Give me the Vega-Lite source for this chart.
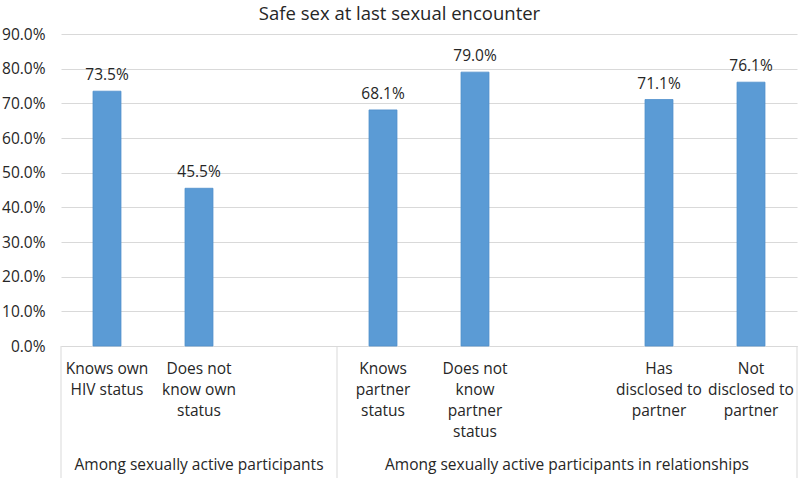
{
  "$schema": "https://vega.github.io/schema/vega-lite/v6.json",
  "width": 736,
  "height": 312,
  "autosize": {"type": "none"},
  "padding": {"left": 61, "top": 34, "right": 3, "bottom": 132},
  "background": "white",
  "title": {
    "text": "Safe sex at last sexual encounter",
    "anchor": "middle",
    "frame": "bounds",
    "font": "Open Sans",
    "fontSize": 18.5,
    "fontWeight": "normal",
    "color": "#262626",
    "offset": 4
  },
  "config": {
    "view": {"stroke": null},
    "font": "Open Sans"
  },
  "datasets": {
    "bars": [
      {"label": "Knows own|HIV status", "value": 0.735},
      {"label": "Does not|know own|status", "value": 0.455},
      {"label": "Knows|partner|status", "value": 0.681},
      {"label": "Does not|know|partner|status", "value": 0.790},
      {"label": "Has|disclosed to|partner", "value": 0.711},
      {"label": "Not|disclosed to|partner", "value": 0.761}
    ],
    "groups": [
      {"group": "Among sexually active participants", "center": 1.5},
      {"group": "Among sexually active participants in relationships", "center": 5.5}
    ],
    "separators": [
      {"boundary": 0},
      {"boundary": 3},
      {"boundary": 8}
    ]
  },
  "resolve": {"scale": {"x": "independent"}},
  "layer": [
    {
      "data": {"name": "bars"},
      "encoding": {
        "x": {
          "field": "label",
          "type": "nominal",
          "sort": null,
          "scale": {
            "domain": ["Knows own|HIV status", "Does not|know own|status", " ", "Knows|partner|status", "Does not|know|partner|status", "  ", "Has|disclosed to|partner", "Not|disclosed to|partner"],
            "paddingInner": 0.696,
            "paddingOuter": 0.348
          },
          "axis": {
            "title": null,
            "labelExpr": "split(datum.label, '|')",
            "labelAngle": 0,
            "labelFont": "Open Sans",
            "labelFontSize": 15.5,
            "labelColor": "#262626",
            "labelLineHeight": 21,
            "labelPadding": 15,
            "labelBaseline": "top",
            "labelOverlap": false,
            "ticks": false,
            "domainColor": "#d9d9d9",
            "domainWidth": 1,
            "grid": false
          }
        },
        "y": {
          "field": "value",
          "type": "quantitative",
          "scale": {"domain": [0, 0.9], "nice": false, "zero": true},
          "axis": {
            "title": null,
            "format": ".1%",
            "values": [0, 0.1, 0.2, 0.3, 0.4, 0.5, 0.6, 0.7, 0.8, 0.9],
            "labelFont": "Open Sans",
            "labelFontSize": 15.5,
            "labelColor": "#262626",
            "labelPadding": 16,
            "labelOverlap": false,
            "ticks": false,
            "domain": false,
            "grid": true,
            "gridColor": "#d9d9d9",
            "gridWidth": 1
          }
        }
      },
      "layer": [
        {"mark": {"type": "bar", "color": "#5b9bd5", "stroke": "#4f8fcb", "strokeWidth": 0.8}},
        {
          "mark": {"type": "text", "baseline": "middle", "dy": -16, "font": "Open Sans", "fontSize": 15.5, "color": "#262626"},
          "encoding": {"text": {"field": "value", "type": "quantitative", "format": ".1%"}}
        }
      ]
    },
    {
      "encoding": {
        "y": {
          "datum": 0,
          "type": "quantitative",
          "scale": {"domain": [0, 0.9], "nice": false, "zero": true},
          "axis": {
            "title": null,
            "format": ".1%",
            "values": [0, 0.1, 0.2, 0.3, 0.4, 0.5, 0.6, 0.7, 0.8, 0.9],
            "labelFont": "Open Sans",
            "labelFontSize": 15.5,
            "labelColor": "#262626",
            "labelPadding": 16,
            "labelOverlap": false,
            "ticks": false,
            "domain": false,
            "grid": true,
            "gridColor": "#d9d9d9",
            "gridWidth": 1
          }
        }
      },
      "layer": [
        {
          "data": {"name": "separators"},
          "mark": {"type": "rule", "color": "#d9d9d9", "strokeWidth": 1},
          "encoding": {
            "x": {"field": "boundary", "type": "quantitative", "scale": {"domain": [0, 8], "nice": false, "zero": false}, "axis": null},
            "y2": {"datum": -0.385}
          }
        },
        {
          "data": {"name": "groups"},
          "mark": {"type": "text", "baseline": "middle", "align": "center", "dy": 118.5, "font": "Open Sans", "fontSize": 15.5, "color": "#262626"},
          "encoding": {
            "x": {"field": "center", "type": "quantitative", "scale": {"domain": [0, 8], "nice": false, "zero": false}, "axis": null},
            "text": {"field": "group", "type": "nominal"}
          }
        }
      ]
    }
  ]
}
